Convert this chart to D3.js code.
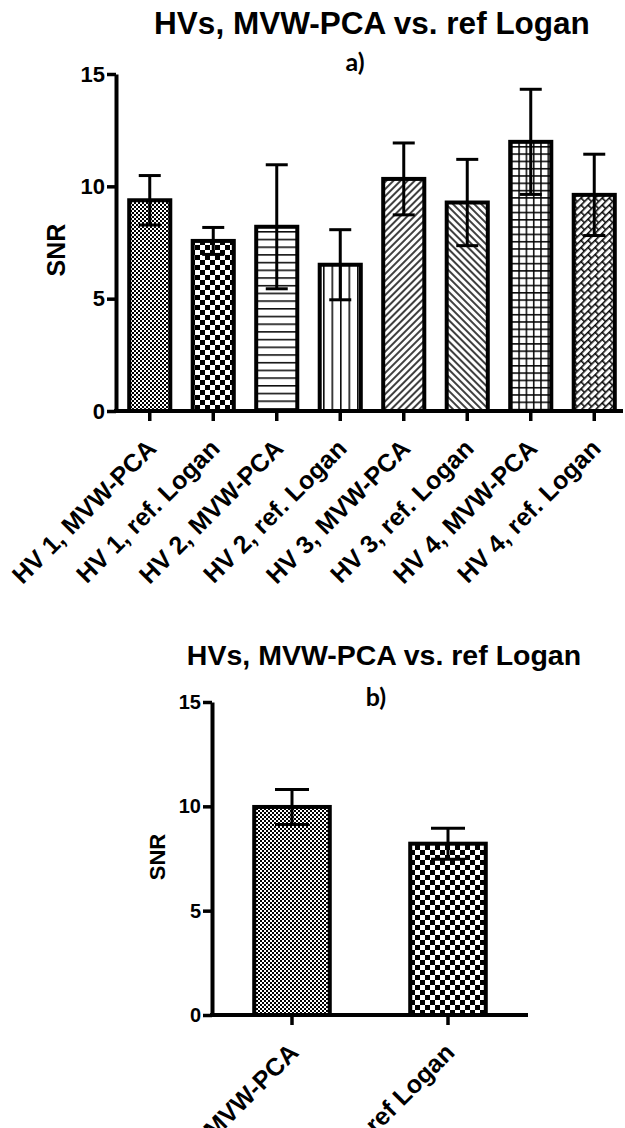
<html>
<head>
  <title>HVs SNR</title>
  <script src="https://d3js.org/d3.v7.min.js"></script>
</head>
<style type="text/css">
body { margin: 0; background: #fff; }
.axis text { font-family: "Liberation Sans", Arial, sans-serif; font-weight: bold; fill: #000; }
</style>
<body>
<script>

// panel a
var labelsA = ["HV 1, MVW-PCA", "HV 1, ref. Logan", "HV 2, MVW-PCA", "HV 2, ref. Logan",
               "HV 3, MVW-PCA", "HV 3, ref. Logan", "HV 4, MVW-PCA", "HV 4, ref. Logan"];
var meansA = [9.38, 7.57, 8.2, 6.51, 10.33, 9.28, 11.98, 9.62];
var errsA  = [1.1, 0.6, 2.76, 1.56, 1.6, 1.92, 2.34, 1.81];
var fillsA = ["fineCheck", "check", "hlines", "vlines", "fdiag", "bdiag", "grid", "weave"];

// panel b
var labelsB = ["MVW-PCA", "ref Logan"];
var meansB = [9.97, 8.21];
var errsB  = [0.84, 0.74];
var fillsB = ["fineCheck", "check"];

var yTicks = [0, 5, 10, 15];
var font = '"Liberation Sans", Arial, sans-serif';

var svg = d3.select("body").append("svg")
  .attr("width", 625)
  .attr("height", 1128);

var defs = svg.append("defs");

function pattern(id, w, h, rot) {
  var p = defs.append("pattern")
    .attr("id", id)
    .attr("patternUnits", "userSpaceOnUse")
    .attr("width", w)
    .attr("height", h);
  if (rot) p.attr("patternTransform", "rotate(" + rot + ")");
  p.append("rect").attr("width", w).attr("height", h).attr("fill", "#fff");
  return p;
}

function pline(p, x1, y1, x2, y2) {
  p.append("line").attr("x1", x1).attr("y1", y1).attr("x2", x2).attr("y2", y2)
   .attr("stroke", "#000").attr("stroke-width", 1.5);
}

var p;
p = pattern("fineCheck", 4, 4);
p.append("rect").attr("width", 2).attr("height", 2).attr("fill", "#000");
p.append("rect").attr("x", 2).attr("y", 2).attr("width", 2).attr("height", 2).attr("fill", "#000");

p = pattern("check", 10, 10);
p.append("rect").attr("width", 5).attr("height", 5).attr("fill", "#000");
p.append("rect").attr("x", 5).attr("y", 5).attr("width", 5).attr("height", 5).attr("fill", "#000");

p = pattern("hlines", 10, 7.7);
pline(p, 0, 0.8, 10, 0.8);

p = pattern("vlines", 8.5, 10);
pline(p, 0.8, 0, 0.8, 10);

p = pattern("fdiag", 5, 10, 45);
pline(p, 1, 0, 1, 10);

p = pattern("bdiag", 5, 10, -45);
pline(p, 1, 0, 1, 10);

p = pattern("grid", 7.3, 7.3);
pline(p, 0.8, 0, 0.8, 7.3);
pline(p, 0, 0.8, 7.3, 0.8);

// diagonal brick / zigzag weave
p = pattern("weave", 10, 10, -45);
pline(p, 0, 0.8, 10, 0.8);
pline(p, 0, 5.8, 10, 5.8);
pline(p, 0.8, 0, 0.8, 5.8);
pline(p, 5.8, 5.8, 5.8, 10);

function drawPanel(o) {
  var x = d3.scaleBand().domain(o.labels).range(o.xr)
            .paddingInner(o.padIn).paddingOuter(o.padIn / 2);
  var y = d3.scaleLinear().domain([0, 15]).range(o.yr);
  var g = svg.append("g");

  // titles
  g.append("text")
   .attr("x", o.titleX).attr("y", o.titleY)
   .attr("text-anchor", "middle")
   .attr("font-family", font).attr("font-weight", "bold")
   .attr("font-size", o.titleSize)
   .text("HVs, MVW-PCA vs. ref Logan");

  g.append("text")
   .attr("x", o.subX).attr("y", o.subY)
   .attr("text-anchor", "middle")
   .attr("font-family", "Lato, 'Open Sans', sans-serif")
   .attr("font-weight", "bold")
   .attr("font-size", 25)
   .text(o.sub);

  g.append("text")
   .attr("transform", "translate(" + o.snrX + "," + o.snrY + ") rotate(-90)")
   .attr("text-anchor", "middle")
   .attr("dy", "0.35em")
   .attr("font-family", font).attr("font-weight", "bold")
   .attr("font-size", o.snrSize)
   .text("SNR");

  var sw = 4;
  g.selectAll(".bar")
   .data(o.labels)
   .enter().append("rect")
   .attr("class", "bar")
   .attr("x", function(d) { return x(d) + sw / 2; })
   .attr("width", x.bandwidth() - sw)
   .attr("y", function(d, i) { return y(o.means[i]); })
   .attr("height", function(d, i) { return y(0) - y(o.means[i]); })
   .attr("fill", function(d, i) { return "url(#" + o.fills[i] + ")"; })
   .attr("stroke", "#000")
   .attr("stroke-width", sw);

  // error bars
  var eb = g.selectAll(".err")
    .data(o.labels)
    .enter().append("g")
    .attr("class", "err")
    .attr("transform", function(d) { return "translate(" + (x(d) + x.bandwidth() / 2) + ",0)"; })
    .attr("stroke", "#000")
    .attr("stroke-width", 3);

  eb.append("line")
    .attr("y1", function(d, i) { return y(o.means[i] - o.errs[i]); })
    .attr("y2", function(d, i) { return y(o.means[i] + o.errs[i]); });
  eb.append("line")
    .attr("x1", -o.cap / 2).attr("x2", o.cap / 2)
    .attr("y1", function(d, i) { return y(o.means[i] + o.errs[i]); })
    .attr("y2", function(d, i) { return y(o.means[i] + o.errs[i]); });
  eb.append("line")
    .attr("x1", -o.cap / 2).attr("x2", o.cap / 2)
    .attr("y1", function(d, i) { return y(o.means[i] - o.errs[i]); })
    .attr("y2", function(d, i) { return y(o.means[i] - o.errs[i]); });

  // y axis
  var ya = g.append("g")
    .attr("class", "axis")
    .attr("transform", "translate(" + o.axisX + ",0)")
    .call(d3.axisLeft(y).tickValues(yTicks).tickSize(9).tickSizeOuter(0).tickPadding(2));
  ya.select(".domain").attr("stroke", "#000").attr("stroke-width", 4);
  ya.selectAll(".tick line").attr("stroke", "#000").attr("stroke-width", 3.5);
  ya.selectAll("text").attr("font-size", o.tickSize);

  // x axis
  var xa = g.append("g")
    .attr("class", "axis")
    .attr("transform", "translate(0," + y(0) + ")")
    .call(d3.axisBottom(x).tickSize(10).tickSizeOuter(0));
  xa.select(".domain").remove();
  xa.selectAll(".tick line").attr("stroke", "#000").attr("stroke-width", 3.5);
  xa.append("line")
    .attr("x1", o.axisX - 2).attr("x2", o.xEnd)
    .attr("stroke", "#000")
    .attr("stroke-width", 4);
  xa.selectAll("text")
    .attr("x", 0).attr("y", 0).attr("dy", 0)
    .attr("text-anchor", "end")
    .attr("font-size", o.labelSize)
    .attr("transform", "translate(8,39) rotate(-45)");
}

drawPanel({
  labels: labelsA, means: meansA, errs: errsA, fills: fillsA,
  xr: [118, 626], padIn: 0.29, yr: [411, 74],
  axisX: 116, xEnd: 623, cap: 22,
  titleX: 372, titleY: 34, titleSize: 31.5,
  sub: "a)", subX: 355, subY: 71,
  snrX: 56, snrY: 250, snrSize: 25,
  tickSize: 22, labelSize: 25
});

drawPanel({
  labels: labelsB, means: meansB, errs: errsB, fills: fillsB,
  xr: [214, 526], padIn: 0.49, yr: [1015, 702],
  axisX: 212, xEnd: 528, cap: 34,
  titleX: 384, titleY: 665, titleSize: 28.5,
  sub: "b)", subX: 376, subY: 706,
  snrX: 157, snrY: 857, snrSize: 22,
  tickSize: 20, labelSize: 25
});

</script>
</body>
</html>
